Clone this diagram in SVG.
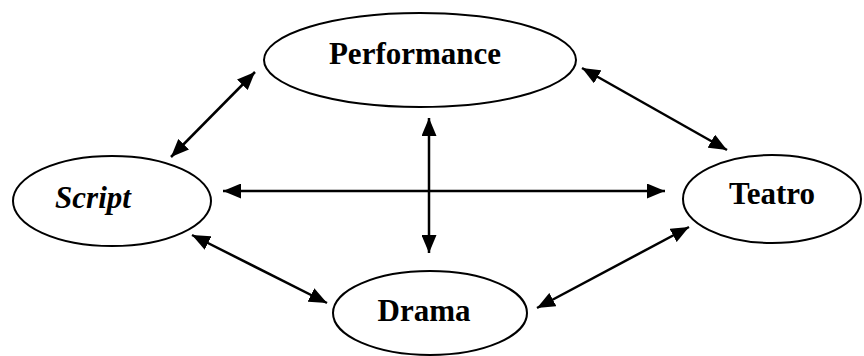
<svg xmlns="http://www.w3.org/2000/svg" width="864" height="356" viewBox="0 0 864 356">
<style>
.node ellipse{fill:#fff;stroke:#000;stroke-width:2}
.node text{font-family:"Liberation Serif","Times New Roman",serif;font-weight:bold;font-size:31px;text-anchor:middle;fill:#000}
.conn line{stroke:#000;stroke-width:2.5;marker-start:url(#ah);marker-end:url(#ah)}
</style>
<defs>
<marker id="ah" markerUnits="userSpaceOnUse" markerWidth="18" markerHeight="15" refX="18" refY="7.5" orient="auto-start-reverse">
<path d="M0,0 L18,7.5 L0,15 z" fill="#000"/>
</marker>
</defs>
<rect width="864" height="356" fill="#fff"/>
<g id="performance" class="node">
<ellipse cx="420" cy="60" rx="156" ry="47"/>
<text x="415" y="64">Performance</text>
</g>
<g id="script" class="node">
<ellipse cx="112" cy="201" rx="99" ry="45"/>
<text x="93" y="208" font-style="italic">Script</text>
</g>
<g id="teatro" class="node">
<ellipse cx="772" cy="199" rx="89" ry="44"/>
<text x="772" y="204">Teatro</text>
</g>
<g id="drama" class="node">
<ellipse cx="430" cy="313" rx="97" ry="42"/>
<text x="424" y="321">Drama</text>
</g>
<g id="connectors" class="conn">
<line x1="171" y1="157" x2="255" y2="72"/>
<line x1="582" y1="68" x2="727" y2="150"/>
<line x1="223" y1="191" x2="665" y2="191"/>
<line x1="429" y1="118" x2="429" y2="253"/>
<line x1="192" y1="235" x2="327" y2="303"/>
<line x1="537" y1="308" x2="689" y2="227"/>
</g>
</svg>
